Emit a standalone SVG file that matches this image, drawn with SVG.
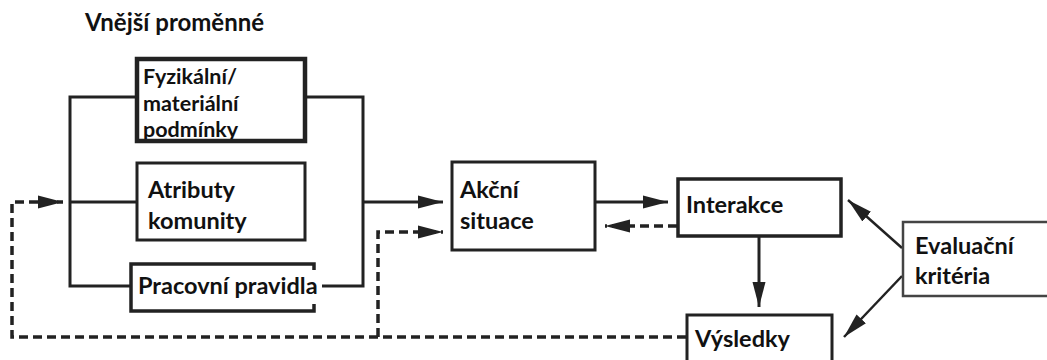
<svg xmlns="http://www.w3.org/2000/svg" width="1047" height="360" viewBox="0 0 1047 360">
<style>
text{font-family:Lato,"Open Sans","Liberation Sans",sans-serif;font-weight:bold;fill:#111;font-size:23.5px}
.box{fill:#fff;stroke:#222;stroke-width:3}
.c{fill:none;stroke:#222;stroke-width:3}
.d{fill:none;stroke:#222;stroke-width:3.5;stroke-dasharray:9 5}
</style>
<defs>
<marker id="ah" markerUnits="userSpaceOnUse" markerWidth="25" markerHeight="14" refX="25" refY="7" orient="auto">
<path d="M0,0.5 L25,7 L0,13.5 z" fill="#222"/>
</marker>
</defs>
<text x="85" y="31" style="font-size:24px">Vnější proměnné</text>
<g id="connectors">
<path class="c" d="M135,97 H70 V286 H130"/>
<path class="c" d="M70,202 H136"/>
<path class="c" d="M307,97 H363 V286 H322"/>
<path class="c" d="M363,202 H443" marker-end="url(#ah)"/>
<path class="d" d="M686,337 H12 V202 H63" marker-end="url(#ah)"/>
<path class="d" d="M378,337 V232 H443" marker-end="url(#ah)"/>
<path class="c" d="M596,202 H668" marker-end="url(#ah)"/>
<path class="d" d="M677,226 H605" marker-end="url(#ah)"/>
<path class="c" d="M759,237 V307" marker-end="url(#ah)"/>
<path class="c" style="stroke-width:2.5" d="M902,248 L848,200" marker-end="url(#ah)"/>
<path class="c" style="stroke-width:2.5" d="M902,276 L844,337" marker-end="url(#ah)"/>
</g>
<g id="fyzikalni">
<rect class="box" x="137" y="59" width="168" height="82" style="stroke-width:4.5"/>
<text x="143" y="84" style="font-size:21.5px">Fyzikální/</text>
<text x="143" y="111" style="font-size:21.5px">materiální</text>
<text x="143" y="137" style="font-size:21.5px">podmínky</text>
<rect x="137" y="139" width="168" height="4" fill="#222"/>
</g>
<g id="atributy">
<rect class="box" x="137" y="163" width="168" height="77"/>
<text x="148" y="198">Atributy</text>
<text x="148" y="229">komunity</text>
</g>
<g id="pravidla">
<path class="c" d="M314,270 V264 H131 V311 H314 V304" style="stroke-width:3.5"/>
<text x="138" y="294">Pracovní pravidla</text>
</g>
<g id="akcni">
<rect class="box" x="452" y="162" width="143" height="88"/>
<text x="460" y="198">Akční</text>
<text x="460" y="229">situace</text>
</g>
<g id="interakce">
<rect class="box" x="678" y="179" width="163" height="57" style="stroke-width:3.5"/>
<text x="686" y="213">Interakce</text>
</g>
<g id="vysledky">
<rect class="box" x="687" y="315" width="145" height="60"/>
<text x="695" y="347">Výsledky</text>
</g>
<g id="evaluacni">
<path d="M1050,222 H903 V296 H1050" fill="#fff" stroke="#444" stroke-width="2.5"/>
<text x="915" y="254">Evaluační</text>
<text x="915" y="284">kritéria</text>
</g>
</svg>
